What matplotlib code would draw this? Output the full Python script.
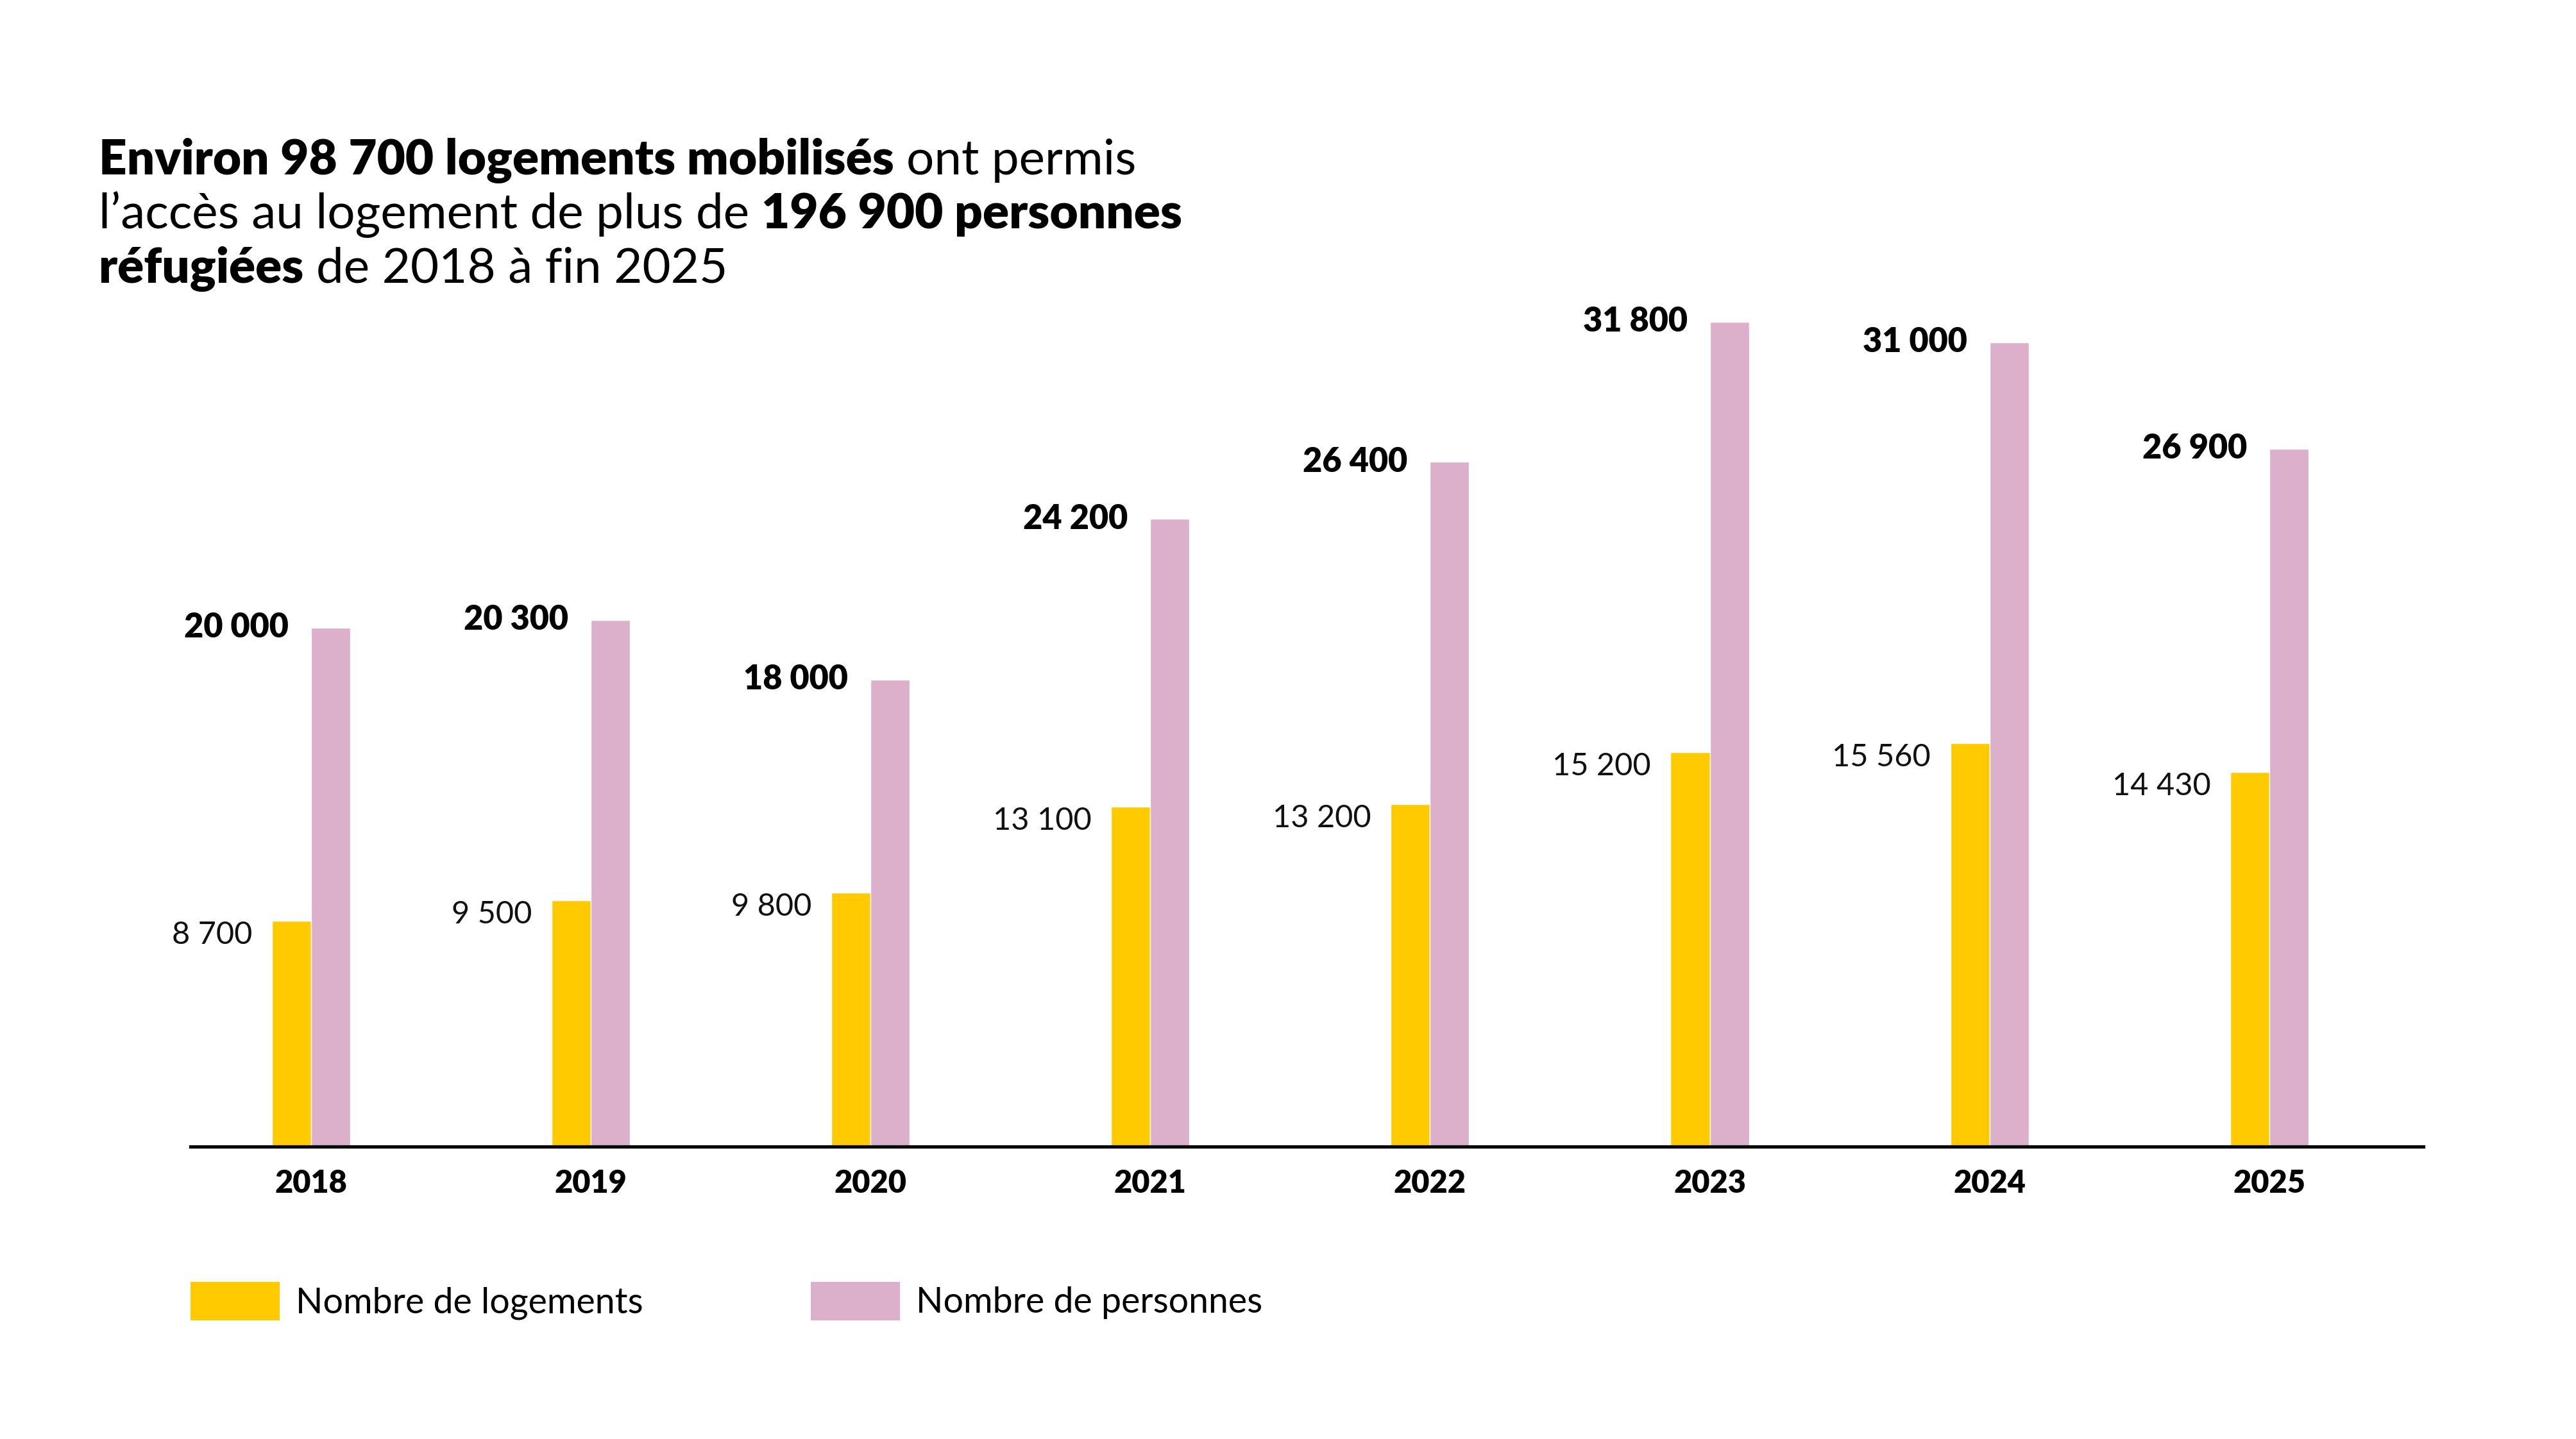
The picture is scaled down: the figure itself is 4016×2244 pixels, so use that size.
import numpy as np
import matplotlib
matplotlib.use("Agg")
import matplotlib.pyplot as plt
from matplotlib.patches import Patch

plt.rcParams['font.family'] = ['Lato', 'DejaVu Sans']

# données
annees = ['2018', '2019', '2020', '2021', '2022', '2023', '2024', '2025']
logements = [8700, 9500, 9800, 13100, 13200, 15200, 15560, 14430]
personnes = [20000, 20300, 18000, 24200, 26400, 31800, 31000, 26900]
lab_logements = ['8 700', '9 500', '9 800', '13 100', '13 200', '15 200', '15 560', '14 430']
lab_personnes = ['20 000', '20 300', '18 000', '24 200', '26 400', '31 800', '31 000', '26 900']

jaune = '#FFCA00'
rose = '#DCAFCB'

fig = plt.figure(figsize=(16.064, 8.976), dpi=250)
ax = fig.add_axes([116 / 1568, 1 - 698 / 876, (1475 - 116) / 1568, (698 - 150) / 876])

x = np.arange(len(annees))
w = 0.14
ax.bar(x - w / 2, logements, width=w, color=jaune, edgecolor='white', linewidth=0.4)
ax.bar(x + w / 2, personnes, width=w, color=rose, edgecolor='white', linewidth=0.4)

for i in range(len(annees)):
    ax.text(x[i] - 0.21, logements[i], lab_logements[i], ha='right', va='top',
            fontsize=14, fontweight='normal', color='#111111')
    ax.text(x[i] - 0.08, personnes[i], lab_personnes[i], ha='right', va='center',
            fontsize=15, fontweight='heavy', color='black')

ax.set_xlim(-0.43, 7.55)
ax.set_ylim(0, 34700)
for s in ['top', 'right', 'left']:
    ax.spines[s].set_visible(False)
ax.spines['bottom'].set_linewidth(1.5)
ax.set_yticks([])
ax.set_xticks(x)
ax.set_xticklabels(annees, fontsize=14, fontweight='heavy')
ax.tick_params(axis='x', length=0, pad=10)

# légende
handles = [Patch(facecolor=jaune, label='Nombre de logements'),
           Patch(facecolor=rose, label='Nombre de personnes')]
leg = fig.legend(handles=handles, loc='center left', bbox_to_anchor=(116 / 1568, 1 - 792 / 876),
                 ncol=2, frameon=False, borderpad=0, borderaxespad=0,
                 handlelength=2.5, handleheight=1.3, handletextpad=0.45, columnspacing=4.7,
                 prop={'size': 16, 'weight': 'normal'})

# titre en plusieurs morceaux (gras / normal)
lignes = [
    [("Environ 98 700 logements mobilisés", 'heavy'), (" ont permis", 'normal')],
    [("l’accès au logement de plus de ", 'normal'), ("196 900 personnes", 'heavy')],
    [("réfugiées", 'heavy'), (" de 2018 à fin 2025", 'normal')],
]
fig.canvas.draw()
rend = fig.canvas.get_renderer()
fs_titre = 22
# largeur d'une espace
t1 = fig.text(0, 0, "a a", fontsize=fs_titre)
t2 = fig.text(0, 0, "aa", fontsize=fs_titre)
esp = (t1.get_window_extent(rend).width - t2.get_window_extent(rend).width) / fig.bbox.width
t1.remove()
t2.remove()

y0 = 1 - 106 / 876
dy = 33 / 876
for k, ligne in enumerate(lignes):
    xx = 60 / 1568
    for txt, poids in ligne:
        s = txt.strip()
        if txt.startswith(' '):
            xx += esp
        t = fig.text(xx, y0 - k * dy, s, fontsize=fs_titre, fontweight=poids,
                     va='baseline', ha='left', color='black')
        xx = t.get_window_extent(rend).x1 / fig.bbox.width
        if txt.endswith(' '):
            xx += esp

fig.savefig('out.png', dpi=250, facecolor='white')
